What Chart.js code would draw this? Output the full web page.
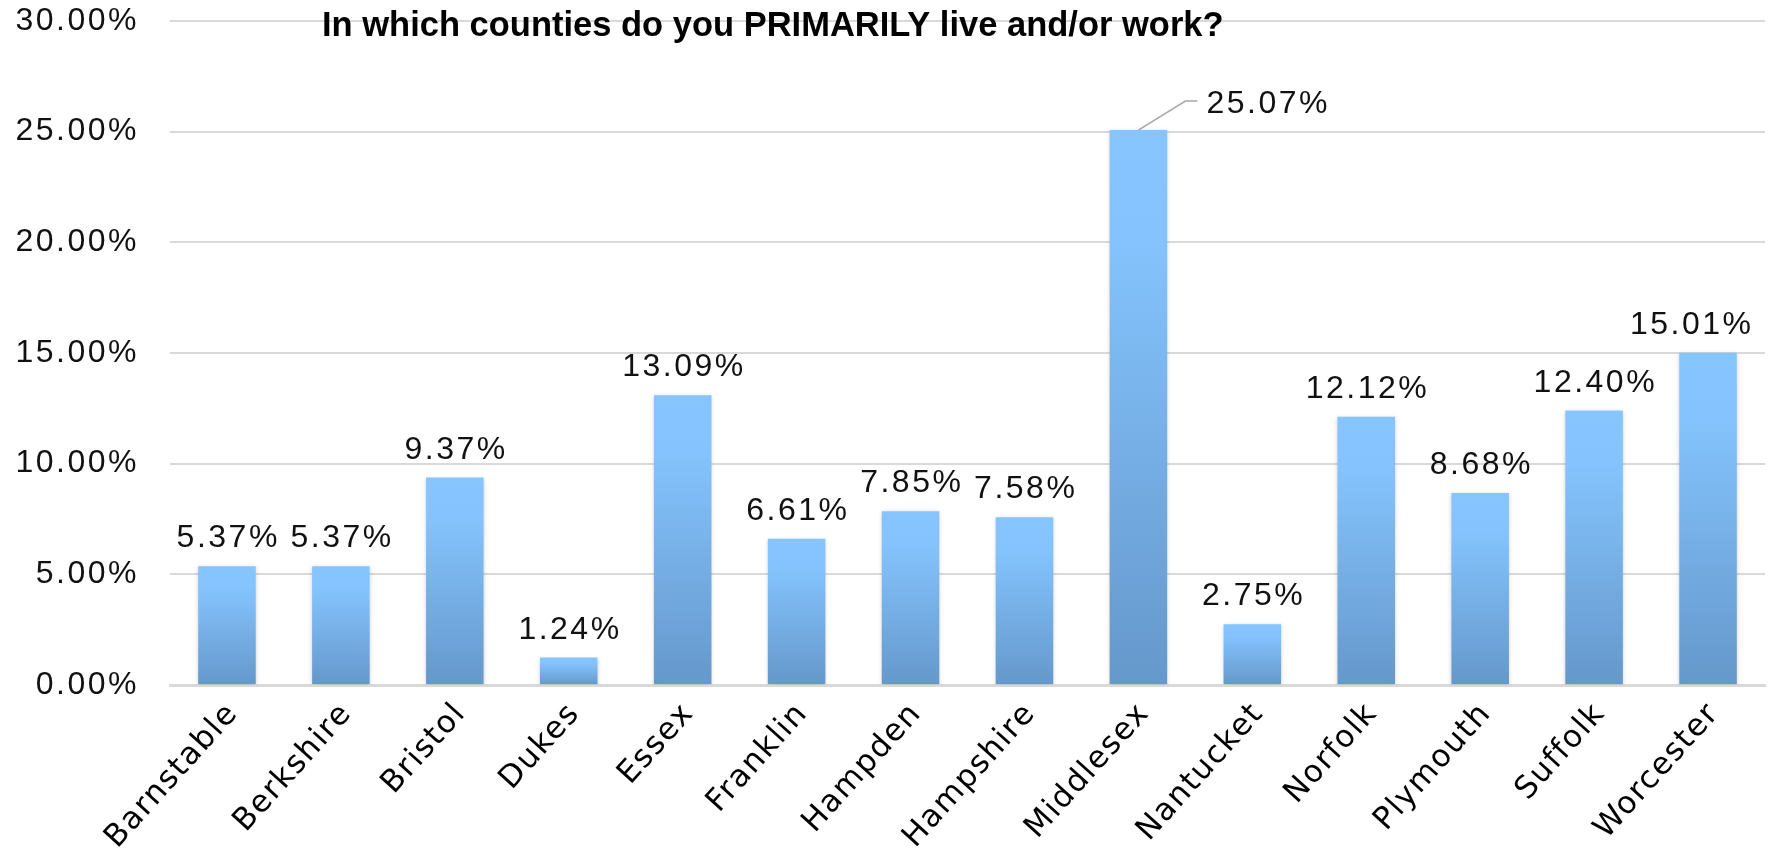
<!DOCTYPE html>
<html><head><meta charset="utf-8">
<script src="https://cdn.jsdelivr.net/npm/chart.js@4.4.1/dist/chart.umd.min.js"></script>
<style>html,body{margin:0;padding:0;background:#fff;} canvas{display:block;}</style>
</head><body>
<canvas id="c" width="1770" height="850"></canvas>
<script>
const categories = ['Barnstable','Berkshire','Bristol','Dukes','Essex','Franklin','Hampden','Hampshire','Middlesex','Nantucket','Norfolk','Plymouth','Suffolk','Worcester'];
const percentages = [5.37,5.37,9.37,1.24,13.09,6.61,7.85,7.58,25.07,2.75,12.12,8.68,12.40,15.01];
const yTickValues = [0,5,10,15,20,25,30];
const chartTitle = 'In which counties do you PRIMARILY live and/or work?';
const calloutCategory = 'Middlesex';

const LABEL_FONT = '32px "Liberation Sans", Arial, sans-serif';
const LABEL_SPACING = 2.5;

function barGradient(c) {
  const chart = c.chart;
  if (!chart.chartArea || !chart.scales.y) return '#78AEE6';
  const y = chart.scales.y;
  const top = y.getPixelForValue(c.raw), bot = y.getPixelForValue(0);
  if (!isFinite(top) || !isFinite(bot) || top === bot) return '#78AEE6';
  const g = chart.ctx.createLinearGradient(0, top, 0, bot);
  g.addColorStop(0, '#86C5FF');
  g.addColorStop(0.2, '#84C3FD');
  g.addColorStop(1, '#6598CB');
  return g;
}

const spacingPatch = {
  id: 'spacingPatch',
  beforeDraw(chart) {
    for (const [id, sp] of [['y', LABEL_SPACING + 'px'], ['x', '1.5px']]) {
      const s = chart.scales[id];
      if (s && !s._spPatched) {
        const orig = s.drawLabels.bind(s);
        s.drawLabels = function (a) {
          const c = this.ctx; const prev = c.letterSpacing;
          c.letterSpacing = sp; orig(a); c.letterSpacing = prev || '0px';
        };
        s._spPatched = true;
      }
    }
  }
};

const barShadow = {
  id: 'barShadow',
  beforeDatasetsDraw(chart) {
    const ctx = chart.ctx; ctx.save();
    ctx.shadowColor = 'rgba(0,0,0,0.18)'; ctx.shadowBlur = 4; ctx.shadowOffsetX = 0; ctx.shadowOffsetY = 1;
  },
  afterDatasetsDraw(chart) { chart.ctx.restore(); }
};

const dataLabels = {
  id: 'dataLabels',
  afterDatasetsDraw(chart) {
    const ctx = chart.ctx;
    const meta = chart.getDatasetMeta(0);
    meta.data.forEach((bar, i) => {
      const text = percentages[i].toFixed(2) + '%';
      ctx.save();
      ctx.font = LABEL_FONT;
      ctx.letterSpacing = LABEL_SPACING + 'px';
      ctx.fillStyle = '#111';
      ctx.textAlign = 'left';
      ctx.textBaseline = 'alphabetic';
      const w = ctx.measureText(text).width - LABEL_SPACING;
      if (categories[i] === calloutCategory) {
        ctx.strokeStyle = '#A6A6A6'; ctx.lineWidth = 1.5;
        ctx.beginPath();
        ctx.moveTo(bar.x, bar.y);
        ctx.lineTo(bar.x + 47, bar.y - 29);
        ctx.lineTo(bar.x + 59, bar.y - 29);
        ctx.stroke();
        ctx.fillText(text, bar.x + 68, bar.y - 17);
      } else {
        let cx = bar.x;
        cx = Math.min(cx, chart.width - 19 - w / 2);
        ctx.fillText(text, cx - w / 2, bar.y - 19);
      }
      ctx.restore();
    });
  }
};

const titlePlugin = {
  id: 'titleText',
  afterDraw(chart) {
    const ctx = chart.ctx;
    ctx.save();
    ctx.letterSpacing = '0px';
    ctx.font = 'bold 34.5px "Liberation Sans", Arial, sans-serif';
    ctx.fillStyle = '#000';
    ctx.textAlign = 'left';
    ctx.textBaseline = 'alphabetic';
    ctx.fillText(chartTitle, 322, 36);
    ctx.restore();
  }
};

new Chart(document.getElementById('c'), {
  type: 'bar',
  data: {
    labels: categories,
    datasets: [{
      data: percentages,
      backgroundColor: barGradient,
      borderWidth: 0,
      categoryPercentage: 1,
      barPercentage: 0.505
    }]
  },
  options: {
    responsive: false,
    devicePixelRatio: 1,
    animation: false,
    layout: { padding: { top: 21, right: 5, left: 0, bottom: 0 } },
    plugins: { legend: { display: false }, title: { display: false }, tooltip: { enabled: false } },
    scales: {
      x: {
        ticks: { minRotation: 48, maxRotation: 48, autoSkip: false, color: '#000',
                 font: { family: '"DejaVu Sans", Verdana, sans-serif', size: 31 }, padding: 11, labelOffset: 6 },
        grid: { display: false, drawTicks: false },
        border: { display: true, color: '#D9D9D9', width: 3 },
        afterFit: s => { s.height = 850 - 685; s.paddingLeft = 0; s.paddingRight = 0; }
      },
      y: {
        min: 0, max: 30,
        afterBuildTicks: s => { s.ticks = yTickValues.map(v => ({ value: v })); },
        ticks: { callback: v => Number(v).toFixed(2) + '%', color: '#111',
                 font: { family: '"Liberation Sans", Arial, sans-serif', size: 32 }, padding: 31 },
        grid: { color: '#D9D9D9', lineWidth: 2, drawTicks: false },
        border: { display: false },
        afterFit: s => { s.width = 170; s.paddingTop = 0; s.paddingBottom = 0; }
      }
    }
  },
  plugins: [spacingPatch, barShadow, dataLabels, titlePlugin]
});
</script>
</body></html>
